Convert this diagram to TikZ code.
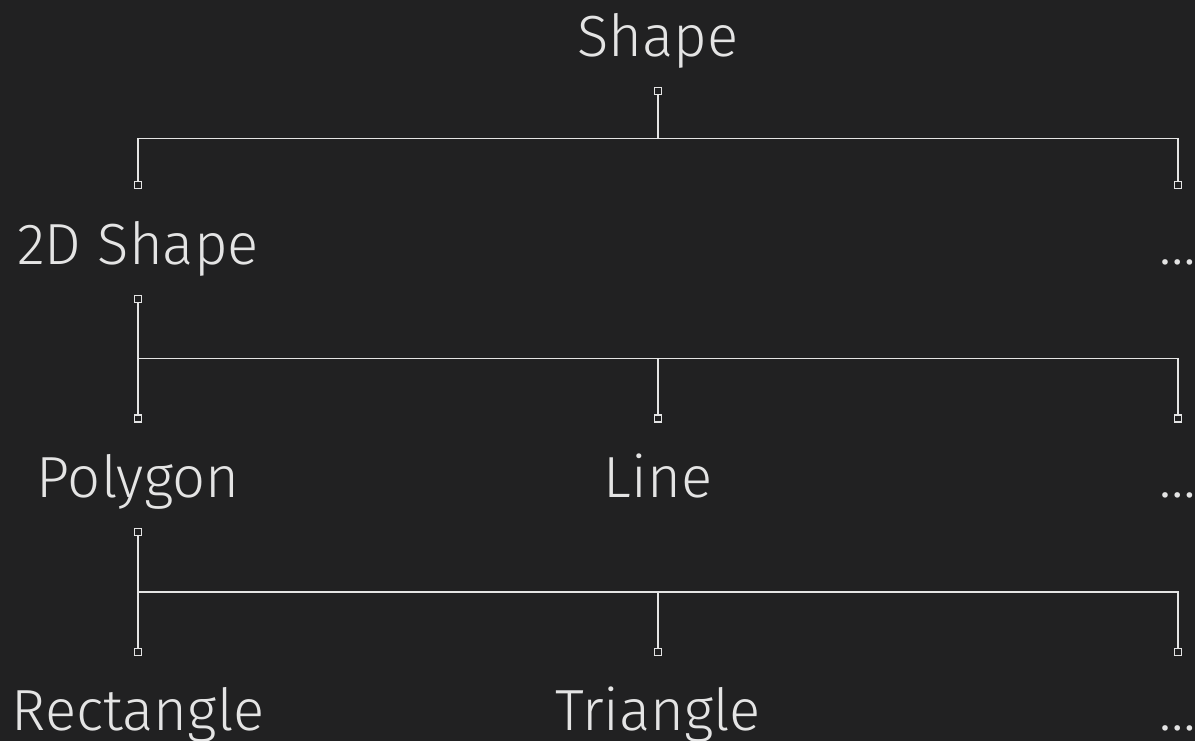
\documentclass[tikz,border=0pt]{standalone}
\usepackage{fontspec}
\setmainfont{Fira Sans}[UprightFont={* Light}]
\definecolor{bg}{RGB}{33,33,34}
\definecolor{fg}{RGB}{228,228,228}
\begin{document}
\begin{tikzpicture}[x=1pt,y=-1pt,
  lbl/.style={anchor=base,text=fg,inner sep=0pt,font=\fontsize{58}{58}\selectfont},
  port/.style={draw=fg,fill=bg,line width=1.5pt,minimum size=7pt,inner sep=0pt,rectangle},
  wire/.style={draw=fg,line width=1.6pt}]
\fill[bg] (0,0) rectangle (1195,741);
\useasboundingbox (0,0) rectangle (1195,741);
% labels
\node[lbl] (shape) at (658,57) {Shape};
\node[lbl] (d2) at (138,264) {2D Shape};
\node[lbl] (dots1) at (1178,264) {…};
\node[lbl] (poly) at (138,497) {Polygon};
\node[lbl] (line) at (658,497) {Line};
\node[lbl] (dots2) at (1178,497) {…};
\node[lbl] (rect) at (138,730) {Rectangle};
\node[lbl] (tri) at (658,730) {Triangle};
\node[lbl] (dots3) at (1178,730) {…};
% buses
\coordinate (bus1) at (0,138.5);
\coordinate (bus2) at (0,358.5);
\coordinate (bus3) at (0,592);
% ports
\path (658,91) node[port] (shapeout) {} (138,185) node[port] (d2in) {} (1178,185) node[port] (dots1in) {};
\path (138,299) node[port] (d2out) {} (138,418.5) node[port] (polyin) {} (658,418.5) node[port] (linein) {} (1178,418.5) node[port] (dots2in) {};
\path (138,532) node[port] (polyout) {} (138,652) node[port] (rectin) {} (658,652) node[port] (triin) {} (1178,652) node[port] (dots3in) {};
% wires
\draw[wire] (shapeout.south) |- (bus1 -| d2in) -- (d2in.north);
\draw[wire] (shapeout.south) |- (bus1 -| dots1in) -- (dots1in.north);
\draw[wire] (d2out.south) |- (bus2 -| polyin) -- (polyin.north);
\draw[wire] (d2out.south) |- (bus2 -| linein) -- (linein.north);
\draw[wire] (d2out.south) |- (bus2 -| dots2in) -- (dots2in.north);
\draw[wire] (polyout.south) |- (bus3 -| rectin) -- (rectin.north);
\draw[wire] (polyout.south) |- (bus3 -| triin) -- (triin.north);
\draw[wire] (polyout.south) |- (bus3 -| dots3in) -- (dots3in.north);
\end{tikzpicture}
\end{document}
